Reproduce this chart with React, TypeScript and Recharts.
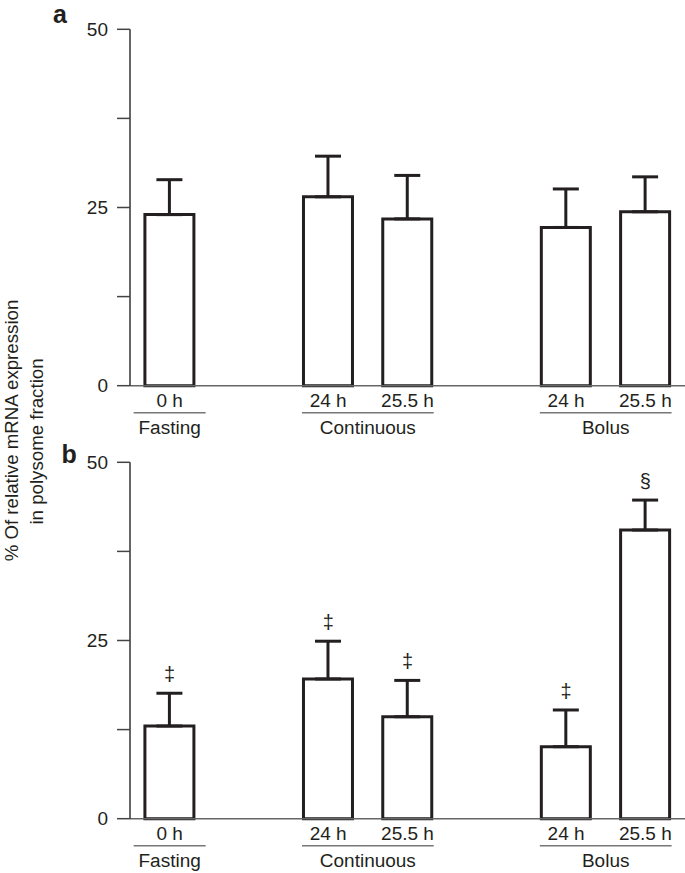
import React from "react";
import { ComposedChart, Bar, ErrorBar, XAxis, YAxis, Line } from "recharts";

// ---- data ----
const categories = ["F0", "gap1", "C24", "C25", "gap2", "B24", "B25"];
const subLabels = ["0 h", "", "24 h", "25.5 h", "", "24 h", "25.5 h"];
const groupLabels = ["Fasting", "Continuous", "Bolus"];
const groupOf = [0, -1, 1, 1, -1, 2, 2];

const meanA = [24.0, null, 26.5, 23.4, null, 22.2, 24.4];
const errA = [4.9, null, 5.7, 6.1, null, 5.4, 4.9];
const markA = [null, null, null, null, null, null, null];

const meanB = [13.0, null, 19.6, 14.3, null, 10.1, 40.5];
const errB = [4.6, null, 5.3, 5.1, null, 5.15, 4.2];
const markB = ["‡", null, "‡", "‡", null, "‡", "§"];

const yTicks = [0, 12.5, 25, 37.5, 50];
const yTickLabels = ["0", "", "25", "", "50"];

const yLabelLines = ["% Of relative mRNA expression", "in polysome fraction"];
const panelLetters = ["a", "b"];

// ---- style ----
const FONT = '"Liberation Sans", Arial, Helvetica, sans-serif';
const INK = "#231f20";
const GAP_FRAC = 0.188;
const MIN_RULE = 72;

function XTick(props: any) {
  const { x, y, payload } = props;
  const i: number = payload?.index ?? props.index;
  const band = payload?.offset ? payload.offset * 2 : (props.width || 555) / categories.length;
  const items: any[] = [];
  items.push(
    <text key="s" x={x} y={y + 21} textAnchor="middle" fontSize={19} fill={INK} fontFamily={FONT}>
      {subLabels[i]}
    </text>
  );
  const g = groupOf[i];
  if (g >= 0 && (i === groupOf.length - 1 || groupOf[i + 1] !== g)) {
    const first = groupOf.indexOf(g);
    const half = (band * (1 - 2 * GAP_FRAC)) / 2 + 1.5;
    let x1 = x - (i - first) * band - half;
    let x2 = x + half;
    const cx = (x1 + x2) / 2;
    if (x2 - x1 < MIN_RULE) {
      x1 = cx - MIN_RULE / 2;
      x2 = cx + MIN_RULE / 2;
    }
    items.push(<line key="l" x1={x1} x2={x2} y1={y + 27} y2={y + 27} stroke="#777" strokeWidth={1.4} />);
    items.push(
      <text key="g" x={cx} y={y + 48} textAnchor="middle" fontSize={19} fill={INK} fontFamily={FONT}>
        {groupLabels[g]}
      </text>
    );
  }
  return <g>{items}</g>;
}

function renderMark(p: any) {
  const { cx, cy, index, payload } = p;
  const m = payload?.mark;
  if (!m || cy == null || isNaN(cy)) return <g key={`m${index}`} />;
  return (
    <text key={`m${index}`} x={cx} y={cy - 19} textAnchor="middle" dominantBaseline="central" fontSize={20} fill={INK} fontFamily={FONT}>
      {m}
    </text>
  );
}

function Panel({ means, errs, marks }: { means: (number | null)[]; errs: (number | null)[]; marks: (string | null)[] }) {
  const data = categories.map((c, i) => ({
    cat: c,
    mean: means[i],
    err: errs[i] == null ? null : [0, errs[i] as number],
    top: means[i] == null || errs[i] == null ? null : (means[i] as number) + (errs[i] as number),
    mark: marks[i],
  }));
  return (
    <ComposedChart
      width={685}
      height={437.7}
      data={data}
      margin={{ top: 29.3, right: 0, bottom: 0, left: 0 }}
      barCategoryGap={`${GAP_FRAC * 100}%`}
    >
      <XAxis
        dataKey="cat"
        type="category"
        height={52}
        interval={0}
        tickSize={0}
        tickMargin={0}
        tickLine={false}
        axisLine={{ stroke: "#666", strokeWidth: 1.5 }}
        tick={(p: any) => <XTick {...p} />}
      />
      <YAxis
        type="number"
        domain={[0, 50]}
        ticks={yTicks}
        interval={0}
        width={130}
        tickSize={13}
        tickMargin={9}
        axisLine={{ stroke: "#333", strokeWidth: 1.5 }}
        tickLine={{ stroke: "#444", strokeWidth: 1.5 }}
        tick={{ fill: INK, fontSize: 19, fontFamily: FONT }}
        tickFormatter={(v: number) => yTickLabels[yTicks.indexOf(v)] ?? ""}
      />
      <Bar dataKey="mean" fill="#ffffff" stroke={INK} strokeWidth={3} isAnimationActive={false}>
        <ErrorBar dataKey="err" width={13} stroke={INK} strokeWidth={3} direction="y" isAnimationActive={false} />
      </Bar>
      <Line dataKey="top" stroke="none" dot={renderMark} activeDot={false} isAnimationActive={false} legendType="none" />
    </ComposedChart>
  );
}

export default function App() {
  return (
    <div style={{ position: "absolute", left: 0, top: 0, width: 685, height: 873, overflow: "hidden", background: "#fff" }}>
      <div style={{ position: "absolute", left: 0, top: 0 }}>
        <Panel means={meanA} errs={errA} marks={markA} />
      </div>
      <div style={{ position: "absolute", left: 0, top: 433 }}>
        <Panel means={meanB} errs={errB} marks={markB} />
      </div>
      <svg width={685} height={873} style={{ position: "absolute", left: 0, top: 0, pointerEvents: "none" }}>
        <text transform="translate(11,430.5) rotate(-90)" textAnchor="middle" dominantBaseline="central" fontSize={18.7} fill={INK} fontFamily={FONT}>
          {yLabelLines[0]}
        </text>
        <text transform="translate(36,441.5) rotate(-90)" textAnchor="middle" dominantBaseline="central" fontSize={18.7} fill={INK} fontFamily={FONT}>
          {yLabelLines[1]}
        </text>
        <text x={53} y={23.3} fontSize={25} fontWeight="bold" fill={INK} fontFamily={FONT}>
          {panelLetters[0]}
        </text>
        <text x={61.5} y={463} fontSize={25} fontWeight="bold" fill={INK} fontFamily={FONT}>
          {panelLetters[1]}
        </text>
      </svg>
    </div>
  );
}
